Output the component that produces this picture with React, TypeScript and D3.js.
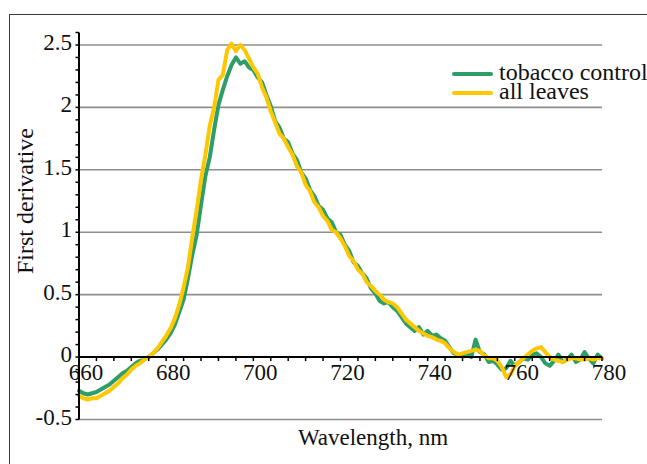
import React from 'react';
import * as d3 from 'd3';

// DATA

const wavelengths: number[] = d3.range(660, 781);

const tobaccoControl: number[] = [
  -0.27, -0.29, -0.30, -0.29, -0.28, -0.26, -0.24, -0.22, -0.19, -0.16,
  -0.13, -0.11, -0.08, -0.05, -0.03, -0.02, 0.00, 0.03, 0.06, 0.10,
  0.14, 0.19, 0.26, 0.36, 0.46, 0.63, 0.82, 0.98, 1.22, 1.45,
  1.60, 1.82, 2.02, 2.14, 2.25, 2.34, 2.40, 2.35, 2.37, 2.32,
  2.30, 2.24, 2.20, 2.10, 2.01, 1.89, 1.84, 1.75, 1.72, 1.63,
  1.58, 1.48, 1.43, 1.34, 1.29, 1.21, 1.18, 1.11, 1.08, 1.00,
  0.98, 0.90, 0.85, 0.76, 0.73, 0.67, 0.63, 0.55, 0.51, 0.45,
  0.43, 0.44, 0.40, 0.37, 0.32, 0.27, 0.24, 0.21, 0.24, 0.18,
  0.21, 0.17, 0.18, 0.15, 0.13, 0.08, 0.03, 0.02, 0.01, 0.03,
  0.00, 0.14, 0.04, 0.02, -0.04, -0.03, -0.06, -0.10, -0.09, -0.03,
  -0.07, -0.04, -0.01, -0.02, 0.02, 0.03, 0.00, -0.05, -0.07, -0.03,
  0.02, -0.04, -0.02, 0.02, -0.04, -0.02, 0.04, -0.01, -0.05, 0.02,
  -0.01,
];

const allLeaves: number[] = [
  -0.31, -0.33, -0.34, -0.33, -0.33, -0.31, -0.29, -0.27, -0.24, -0.21,
  -0.17, -0.14, -0.10, -0.07, -0.05, -0.02, 0.00, 0.03, 0.07, 0.12,
  0.17, 0.23, 0.31, 0.42, 0.56, 0.72, 0.96, 1.18, 1.42, 1.62,
  1.85, 2.00, 2.22, 2.26, 2.46, 2.51, 2.45, 2.50, 2.46, 2.39,
  2.32, 2.27, 2.16, 2.08, 1.97, 1.88, 1.79, 1.75, 1.68, 1.62,
  1.53, 1.48, 1.38, 1.33, 1.24, 1.20, 1.13, 1.09, 1.02, 1.00,
  0.95, 0.89, 0.81, 0.77, 0.70, 0.67, 0.60, 0.57, 0.53, 0.50,
  0.46, 0.44, 0.43, 0.40, 0.35, 0.30, 0.27, 0.24, 0.21, 0.19,
  0.17, 0.16, 0.14, 0.13, 0.11, 0.07, 0.04, 0.02, 0.03, 0.04,
  0.05, 0.06, 0.05, 0.01, -0.01, -0.01, -0.03, -0.08, -0.16, -0.14,
  -0.07, -0.04, -0.01, 0.02, 0.05, 0.07, 0.08, 0.04, 0.00, -0.02,
  -0.03, -0.04, -0.02, -0.01, -0.01, -0.02, -0.02, -0.01, -0.02, -0.01,
  -0.01,
];

const seriesNames: string[] = ['tobacco control', 'all leaves'];
const seriesColors: string[] = ['#2e9e68', '#fdc800'];

const xTicks: number[] = [660, 680, 700, 720, 740, 760, 780];
const yTicks: number[] = [-0.5, 0, 0.5, 1, 1.5, 2, 2.5];
const yTickLabels: string[] = ['-0.5', '0', '0.5', '1', '1.5', '2', '2.5'];

const FONT = "'Liberation Serif', 'DejaVu Serif', serif";

// CHART COMPONENT

export default function App() {
  const width = 647;
  const height = 464;
  const left = 79, right = 602, top = 32.5, bottom = 419.5;

  const xScale = d3.scaleLinear().domain([660, 780]).range([left, right]);
  const yScale = d3.scaleLinear().domain([-0.5, 2.6]).range([bottom, top]);

  const line = d3.line<number>()
    .x((d, i) => xScale(wavelengths[i]))
    .y((d) => yScale(d));

  const minorX = d3.range(660, 781, 4);
  const minorY = d3.range(-5, 27).map((k) => k / 10);

  const txt = { fontFamily: FONT, fontSize: 23, fill: '#111' };

  return (
    <svg width={width} height={height}
      style={{ position: 'absolute', left: 0, top: 0, background: '#fff' }}>
      <rect x={9.5} y={14.5} width={700} height={500} fill="#fff" stroke="#3a3a3a" strokeWidth={1} />

      {/* grid */}
      {yTicks.filter((t) => t !== 0).map((t) => (
        <line key={'g' + t} x1={left} x2={right} y1={yScale(t)} y2={yScale(t)}
          stroke="#8e8e8e" strokeWidth={1.6} />
      ))}

      {/* series */}
      {[tobaccoControl, allLeaves].map((s, i) => (
        <path key={i} d={line(s) || ''} fill="none" stroke={seriesColors[i]}
          strokeWidth={4} strokeLinejoin="round" strokeLinecap="round" />
      ))}

      {/* x axis at zero */}
      <line x1={left} x2={right} y1={yScale(0)} y2={yScale(0)} stroke="#000" strokeWidth={2} />
      {minorX.map((t) => (
        <line key={'xt' + t} x1={xScale(t)} x2={xScale(t)} y1={yScale(0)} y2={yScale(0) + 4}
          stroke="#000" strokeWidth={1.5} />
      ))}
      {xTicks.map((t) => (
        <text key={'xl' + t} x={xScale(t) + 7} y={380} textAnchor="middle" style={txt}>
          {t}
        </text>
      ))}

      {/* y axis */}
      <line x1={left} x2={left} y1={top} y2={bottom} stroke="#000" strokeWidth={2} />
      {minorY.map((t) => (
        <line key={'yt' + t} x1={left - 3.5} x2={left} y1={yScale(t)} y2={yScale(t)}
          stroke="#000" strokeWidth={1.5} />
      ))}
      {yTicks.map((t, i) => (
        <text key={'yl' + t} x={72} y={yScale(t) + 5} textAnchor="end" style={txt}>
          {yTickLabels[i]}
        </text>
      ))}

      {/* axis titles */}
      <text transform="translate(33,201) rotate(-90)" textAnchor="middle" style={{ ...txt, fontSize: 24 }}>
        First derivative
      </text>
      <text x={373} y={445} textAnchor="middle" style={txt}>Wavelength, nm</text>

      {/* legend */}
      {seriesNames.map((name, i) => (
        <g key={name}>
          <line x1={454} x2={491} y1={74 + i * 19} y2={74 + i * 19}
            stroke={seriesColors[i]} strokeWidth={4} strokeLinecap="round" />
          <text x={499} y={80 + i * 19} style={{ ...txt, fontSize: 24 }}>{name}</text>
        </g>
      ))}
    </svg>
  );
}
